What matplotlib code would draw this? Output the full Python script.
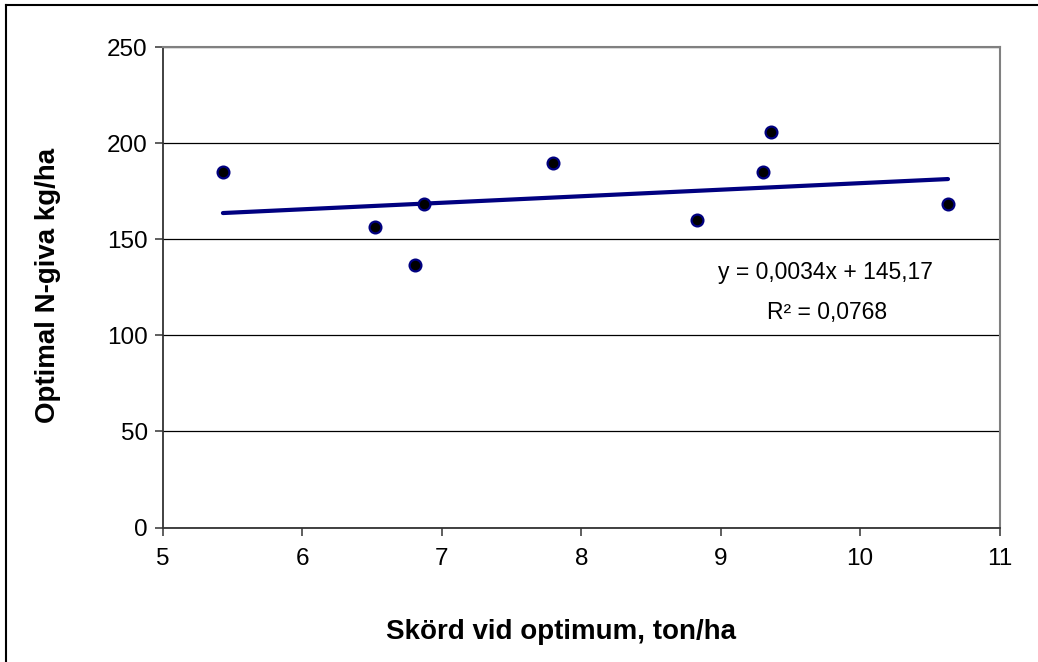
import numpy as np
import matplotlib.pyplot as plt
from matplotlib.lines import Line2D

plt.rcParams['font.family'] = ['Liberation Sans', 'DejaVu Sans']

# Skörd (ton/ha) och optimal N-giva (kg/ha)
skord = [5.43, 6.52, 6.81, 6.87, 7.80, 8.83, 9.30, 9.36, 10.63]
ngiva = [184.8, 156.3, 136.6, 168.3, 189.6, 160.2, 185.0, 206.0, 168.3]

# trendlinje enligt Excel (x i kg/ha)
lutning = 0.0034
konstant = 145.17
ekvation = "y = 0,0034x + 145,17"
r2_text = "R² = 0,0768"

xticks = [5, 6, 7, 8, 9, 10, 11]
yticks = [0, 50, 100, 150, 200, 250]

fig = plt.figure(figsize=(10.38, 6.62), dpi=100)
ax = fig.add_axes([0.157, 0.203, 0.806, 0.726])

ax.set_xlim(5, 11)
ax.set_ylim(0, 250)
ax.set_xticks(xticks)
ax.set_yticks(yticks)
ax.yaxis.grid(True, color='black', linewidth=0.9)
ax.set_axisbelow(True)

# trendlinje
xt = np.array([min(skord), max(skord)])
ax.plot(xt, lutning * xt * 1000 + konstant, color='#000080', linewidth=3,
        solid_capstyle='round', zorder=3)

# punkter
ax.plot(skord, ngiva, 'o', markersize=8.5, markerfacecolor='black',
        markeredgecolor='#000080', markeredgewidth=1.6, zorder=4)

ax.text(9.75, 132.5, ekvation, fontsize=16.5, ha='center', va='center')
ax.text(9.76, 112, r2_text, fontsize=16.5, ha='center', va='center')

for s in ['left', 'bottom']:
    ax.spines[s].set_color('#333333')
    ax.spines[s].set_linewidth(1.3)
for s in ['top', 'right']:
    ax.spines[s].set_color('#808080')
    ax.spines[s].set_linewidth(1.5)

ax.tick_params(axis='both', direction='out', length=6, width=1.1,
               colors='#333333', labelcolor='black', labelsize=17.5)
ax.tick_params(axis='x', pad=9)
ax.tick_params(axis='y', pad=5)

ax.set_xlabel("Skörd vid optimum, ton/ha", fontsize=20, fontweight='bold')
ax.set_ylabel("Optimal N-giva kg/ha", fontsize=20, fontweight='bold')
ax.xaxis.set_label_coords(0.4755, -0.19)
ax.yaxis.set_label_coords(-0.137, 0.504)
ax.yaxis.label.set_verticalalignment('center')

# ram runt diagrammet
fig.add_artist(Line2D([6 / 1038, 1], [1 - 5 / 662, 1 - 5 / 662],
                      transform=fig.transFigure, color='black', linewidth=1.5))
fig.add_artist(Line2D([6 / 1038, 6 / 1038], [0, 1 - 5 / 662],
                      transform=fig.transFigure, color='black', linewidth=1.5))

fig.savefig('out.png', dpi=100, facecolor='white')
